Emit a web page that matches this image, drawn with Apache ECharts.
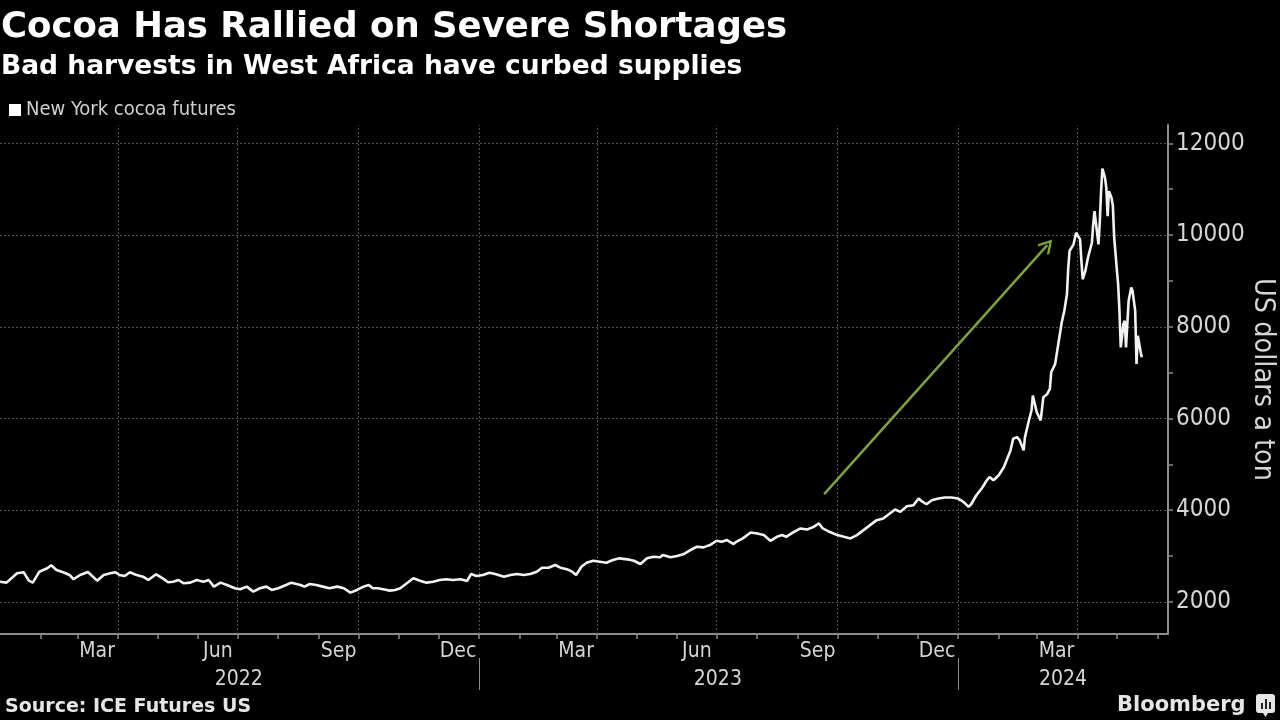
<!DOCTYPE html>
<html><head><meta charset="utf-8">
<script src="https://cdn.jsdelivr.net/npm/echarts@6/dist/echarts.min.js"></script>
<style>html,body{margin:0;padding:0;background:#000;}#c{width:1280px;height:720px;}</style>
</head><body><div id="c"></div>
<script>
const dates = [
'2022-01-01','2022-01-06','2022-01-14','2022-01-19','2022-01-23','2022-01-26','2022-01-31','2022-02-06','2022-02-09','2022-02-13',
'2022-02-18','2022-02-23','2022-02-26','2022-03-03','2022-03-09','2022-03-16','2022-03-21','2022-03-26','2022-03-30','2022-04-02',
'2022-04-06','2022-04-10','2022-04-15','2022-04-20','2022-04-24','2022-04-30','2022-05-05','2022-05-09','2022-05-13','2022-05-17',
'2022-05-21','2022-05-26','2022-05-31','2022-06-05','2022-06-09','2022-06-13','2022-06-18','2022-06-23','2022-06-29','2022-07-03',
'2022-07-08','2022-07-13','2022-07-18','2022-07-23','2022-07-27','2022-08-01','2022-08-07','2022-08-11','2022-08-18','2022-08-21',
'2022-08-25','2022-08-30','2022-09-04','2022-09-09','2022-09-15','2022-09-20','2022-09-25','2022-09-30','2022-10-05','2022-10-09',
'2022-10-12','2022-10-16','2022-10-20','2022-10-25','2022-10-29','2022-11-02','2022-11-07','2022-11-12','2022-11-17','2022-11-22',
'2022-11-27','2022-12-02','2022-12-07','2022-12-12','2022-12-18','2022-12-23','2022-12-26','2022-12-30',
'2023-01-04','2023-01-09','2023-01-14','2023-01-20','2023-01-25','2023-01-30','2023-02-04','2023-02-09','2023-02-14','2023-02-18',
'2023-02-23','2023-02-28','2023-03-04','2023-03-09','2023-03-13','2023-03-16','2023-03-20','2023-03-24','2023-03-29','2023-04-03',
'2023-04-08','2023-04-13','2023-04-18','2023-04-24','2023-04-29','2023-05-04','2023-05-09','2023-05-14','2023-05-19','2023-05-21',
'2023-05-27','2023-06-01','2023-06-06','2023-06-11','2023-06-16','2023-06-21','2023-06-26','2023-07-01','2023-07-05','2023-07-09',
'2023-07-14','2023-07-16','2023-07-21','2023-07-27','2023-08-01','2023-08-06','2023-08-11','2023-08-16','2023-08-20','2023-08-23',
'2023-08-29','2023-09-03','2023-09-08','2023-09-13','2023-09-17','2023-09-20','2023-09-25','2023-10-01','2023-10-06','2023-10-11',
'2023-10-16','2023-10-21','2023-10-26','2023-10-31','2023-11-05','2023-11-10','2023-11-14','2023-11-18','2023-11-23','2023-11-28',
'2023-12-02','2023-12-04','2023-12-08','2023-12-12','2023-12-17','2023-12-22','2023-12-27',
'2024-01-01','2024-01-04','2024-01-06','2024-01-09','2024-01-11','2024-01-15','2024-01-19','2024-01-23','2024-01-25','2024-01-28',
'2024-02-01','2024-02-05','2024-02-07','2024-02-10','2024-02-12','2024-02-15','2024-02-17','2024-02-20','2024-02-21','2024-02-24',
'2024-02-26','2024-02-27','2024-03-01','2024-03-04','2024-03-06','2024-03-09','2024-03-11','2024-03-12','2024-03-15','2024-03-17',
'2024-03-20','2024-03-22','2024-03-24','2024-03-25','2024-03-26','2024-03-29','2024-03-31','2024-04-03','2024-04-04','2024-04-05',
'2024-04-07','2024-04-09','2024-04-12','2024-04-13','2024-04-14','2024-04-15','2024-04-17','2024-04-18','2024-04-19','2024-04-20',
'2024-04-22','2024-04-23','2024-04-24','2024-04-25','2024-04-27','2024-04-28','2024-04-29','2024-05-01','2024-05-02','2024-05-03',
'2024-05-04','2024-05-06','2024-05-07','2024-05-08','2024-05-10','2024-05-12','2024-05-13','2024-05-15','2024-05-16','2024-05-17',
'2024-05-19','2024-05-20'
];
const prices = [
2441,2420,2624,2646,2463,2420,2659,2733,2798,2696,
2646,2587,2494,2587,2652,2463,2587,2624,2646,2587,
2565,2646,2587,2550,2478,2602,2515,2428,2441,2478,
2406,2420,2478,2441,2478,2333,2420,2370,2298,2276,
2333,2224,2298,2333,2261,2298,2370,2420,2370,2333,
2391,2370,2333,2298,2333,2298,2202,2261,2333,2370,
2298,2298,2276,2246,2261,2298,2406,2515,2463,2420,
2441,2478,2494,2478,2494,2457,2609,2565,
2587,2637,2602,2550,2587,2609,2587,2609,2659,2746,
2746,2804,2746,2711,2659,2587,2768,2854,2898,2876,
2854,2913,2950,2928,2898,2826,2950,2985,2972,3022,
2972,3000,3043,3130,3202,3189,3239,3333,3311,3348,
3261,3311,3385,3515,3493,3457,3333,3420,3457,3420,
3529,3602,3580,3637,3711,3602,3529,3457,3420,3385,
3457,3565,3674,3783,3820,3928,4015,3963,4087,4109,
4254,4202,4130,4217,4254,4276,4276,
4254,4202,4159,4072,4130,4326,4472,4652,4724,4652,
4761,4942,5087,5304,5559,5594,5522,5304,5594,5957,
6174,6500,6137,5957,6463,6535,6646,7007,7189,7550,
8094,8348,8710,9290,9652,9797,10051,9906,9435,9036,
9217,9507,9833,10232,10522,10485,9797,10268,10957,11450,
11246,11029,10413,10957,10811,10631,9942,9254,8928,8348,
7550,8058,8130,7550,8565,8855,8783,8348,7189,7804,
7478,7333
];
const seriesName = 'New York cocoa futures';
const xMinDate = '2022-01-01';
const xMaxDate = '2024-06-09';
const yMin = 1300;
const yMax = 12400;
const yLabelValues = [2000, 4000, 6000, 8000, 10000, 12000];
const yTickValues = [2000, 3000, 4000, 5000, 6000, 7000, 8000, 9000, 10000, 11000, 12000];
const monthTickDates = ['2022-02-01','2022-03-01','2022-04-01','2022-05-01','2022-06-01','2022-07-01','2022-08-01','2022-09-01','2022-10-01','2022-11-01','2022-12-01',
  '2023-01-01','2023-02-01','2023-03-01','2023-04-01','2023-05-01','2023-06-01','2023-07-01','2023-08-01','2023-09-01','2023-10-01','2023-11-01','2023-12-01',
  '2024-01-01','2024-02-01','2024-03-01','2024-04-01','2024-05-01','2024-06-01'];
const monthLabelDates = ['2022-03-16','2022-06-16','2022-09-16','2022-12-16','2023-03-16','2023-06-16','2023-09-16','2023-12-16','2024-03-16'];
const monthNames = ['Jan','Feb','Mar','Apr','May','Jun','Jul','Aug','Sep','Oct','Nov','Dec'];
const quarterLineDates = ['2022-04-01','2022-07-01','2022-10-01','2023-01-01','2023-04-01','2023-07-01','2023-10-01','2024-01-01','2024-04-01'];
const yearLabelDates = ['2022-07-02','2023-07-02','2024-03-21'];
const yearSeparatorDates = ['2023-01-01','2024-01-01'];
const arrowFrom = ['2023-09-21', 4350];
const arrowTo = ['2024-03-09', 9780];

function toTs(s) { const p = s.split('-').map(Number); return new Date(p[0], p[1] - 1, p[2]).getTime(); }

const COND = "'DejaVu Sans Condensed', 'Liberation Sans Narrow', 'DejaVu Sans', sans-serif";
const BOLD = "'DejaVu Sans', sans-serif";
const AXIS = '#8c8c8c';
const TXT = '#d6d6d6';
const GREEN = '#7fa23a';
const chevron = 'path://M0,0 L10,10 L8.2,11.8 L0,3.6 L-8.2,11.8 L-10,10 Z';

const lineData = dates.map((d, i) => [toTs(d), prices[i]]);

const chart = echarts.init(document.getElementById('c'), null, { renderer: 'canvas' });
chart.setOption({
  backgroundColor: '#000',
  animation: false,
  title: [
    { text: 'Cocoa Has Rallied on Severe Shortages', left: 1, top: 10, padding: 0,
      textStyle: { color: '#fff', fontSize: 35.5, fontWeight: 'bold', fontFamily: BOLD } },
    { text: 'Bad harvests in West Africa have curbed supplies', left: 1, top: 54, padding: 0,
      textStyle: { color: '#fff', fontSize: 26.5, fontWeight: 'bold', fontFamily: BOLD } },
    { text: 'Source: ICE Futures US', left: 5, top: 698, padding: 0,
      textStyle: { color: '#e6e6e6', fontSize: 19, fontWeight: 'bold', fontFamily: BOLD } },
    { text: 'Bloomberg', left: 1117, top: 695, padding: 0,
      textStyle: { color: '#e6e6e6', fontSize: 21, fontWeight: 'bold', fontFamily: BOLD } }
  ],
  legend: {
    data: [seriesName], left: 9, top: 100, padding: 0, icon: 'rect', itemWidth: 12, itemHeight: 12,
    selectedMode: false, textStyle: { color: '#d0d0d0', fontSize: 20, fontFamily: COND }
  },
  grid: { left: 0, right: 112, top: 125, bottom: 86, containLabel: false, outerBoundsMode: 'none' },
  xAxis: [
    {
      type: 'value', min: toTs(xMinDate), max: toTs(xMaxDate), position: 'bottom', scale: true,
      axisLine: { show: true, onZero: false, lineStyle: { color: AXIS, width: 2 } },
      axisTick: { show: true, customValues: monthTickDates.map(toTs), length: 5, lineStyle: { color: AXIS, width: 1.5 } },
      axisLabel: { show: true, customValues: monthLabelDates.map(toTs), margin: 7,
        formatter: v => monthNames[new Date(v).getMonth()], color: TXT, fontSize: 21, fontFamily: COND },
      splitLine: { show: false }
    },
    {
      type: 'value', min: toTs(xMinDate), max: toTs(xMaxDate), position: 'bottom', offset: 24, scale: true,
      axisLine: { show: false, onZero: false },
      axisTick: { show: true, customValues: yearSeparatorDates.map(toTs), length: 32, lineStyle: { color: AXIS, width: 1 } },
      axisLabel: { show: true, customValues: yearLabelDates.map(toTs), margin: 11,
        formatter: v => String(new Date(v).getFullYear()), color: TXT, fontSize: 21, fontFamily: COND },
      splitLine: { show: false }
    }
  ],
  yAxis: {
    type: 'value', position: 'right', min: yMin, max: yMax,
    axisLine: { show: true, lineStyle: { color: AXIS, width: 2 } },
    axisTick: { show: true, customValues: yTickValues, length: 5, lineStyle: { color: AXIS, width: 1.5 } },
    axisLabel: { show: true, customValues: yLabelValues, margin: 8, formatter: v => String(v),
      color: TXT, fontSize: 24, fontFamily: COND },
    splitLine: { show: false },
    name: 'US dollars a ton', nameLocation: 'middle', nameRotate: -90, nameGap: 80, nameMoveOverlap: false,
    nameTextStyle: { color: TXT, fontSize: 28.5, fontFamily: COND }
  },
  series: [
    {
      name: 'gridlines', type: 'line', data: lineData, xAxisIndex: 0, showSymbol: false, symbol: 'none',
      lineStyle: { opacity: 0 }, silent: true, z: 1,
      markLine: {
        silent: true, symbol: ['none', 'none'], label: { show: false }, z: 1,
        lineStyle: { color: '#4f4f4f', type: [2, 2], width: 1 },
        emphasis: { disabled: true },
        data: quarterLineDates.map(d => ({ xAxis: toTs(d) })).concat(yLabelValues.map(v => ({ yAxis: v })))
      }
    },
    {
      name: seriesName, type: 'line', data: lineData, xAxisIndex: 0, showSymbol: false, symbol: 'none',
      lineStyle: { color: '#f2f2f2', width: 2.6 }, itemStyle: { color: '#ffffff' }, z: 10,
      markLine: {
        silent: true, symbol: ['none', chevron], symbolSize: 15, label: { show: false },
        lineStyle: { color: GREEN, width: 2.5, type: 'solid' },
        emphasis: { disabled: true },
        data: [[{ coord: [toTs(arrowFrom[0]), arrowFrom[1]] }, { coord: [toTs(arrowTo[0]), arrowTo[1]] }]]
      }
    }
  ],
  graphic: [
    { type: 'group', left: 1256, top: 694, children: [
      { type: 'rect', shape: { x: 0, y: 0, width: 19, height: 19, r: 3 }, style: { fill: '#e6e6e6' } },
      { type: 'polygon', shape: { points: [[7, 19], [12, 19], [9.5, 23]] }, style: { fill: '#e6e6e6' } },
      { type: 'rect', shape: { x: 5, y: 9, width: 2, height: 6 }, style: { fill: '#222' } },
      { type: 'rect', shape: { x: 9, y: 5, width: 2, height: 10 }, style: { fill: '#222' } },
      { type: 'rect', shape: { x: 13, y: 8, width: 2, height: 7 }, style: { fill: '#222' } }
    ] }
  ]
});
</script>
</body></html>
